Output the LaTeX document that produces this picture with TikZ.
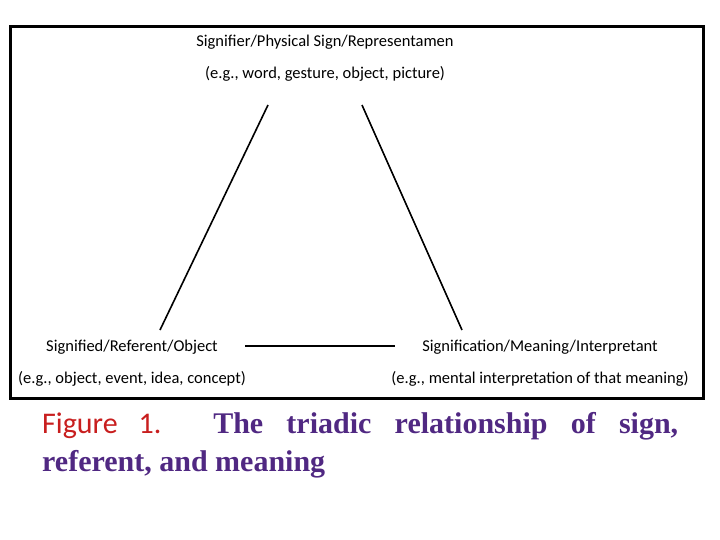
\documentclass[tikz,border=0pt]{standalone}
\usepackage{fontspec}
\setmainfont{Carlito}
\newfontfamily\capserif{Liberation Serif}
\definecolor{capred}{RGB}{200,30,30}
\definecolor{cappurple}{RGB}{80,40,130}
\tikzset{
  label/.style={font=\fontsize{16.5}{19}\selectfont, align=center, inner sep=1pt},
  link/.style={line width=1.6pt}
}
\begin{document}
\begin{tikzpicture}[x=1pt,y=-1pt]
  \useasboundingbox (0,0) rectangle (720,540);
  % frame
  \draw[line width=3pt] (10,27) rectangle (703,398);
  % the three corners
  \node[label] (sign) at (325,58) {Signifier/Physical Sign/Representamen\\[13pt](e.g., word, gesture, object, picture)};
  \node[label] (referent) at (132,363) {Signified/Referent/Object\\[13pt](e.g., object, event, idea, concept)};
  \node[label] (meaning) at (540,363) {Signification/Meaning/Interpretant\\[13pt](e.g., mental interpretation of that meaning)};
  % connectors
  \coordinate (sl) at (268,105);
  \coordinate (sr) at (362,105);
  \coordinate (rt) at (160,330);
  \coordinate (mt) at (462,330);
  \coordinate (rr) at (245,346);
  \coordinate (ml) at (395,346);
  \draw[link] (sl) -- (rt);
  \draw[link] (sr) -- (mt);
  \draw[link] (rr) -- (ml);
  % caption
  \node[anchor=north west, inner sep=0pt, text width=636pt, align=justify,
        font=\fontsize{30}{38}\selectfont] (caption) at (42,412)
    {{\color{capred}Figure 1.} {\capserif\bfseries\color{cappurple} The triadic relationship of sign,\linebreak referent, and meaning}};
\end{tikzpicture}
\end{document}
